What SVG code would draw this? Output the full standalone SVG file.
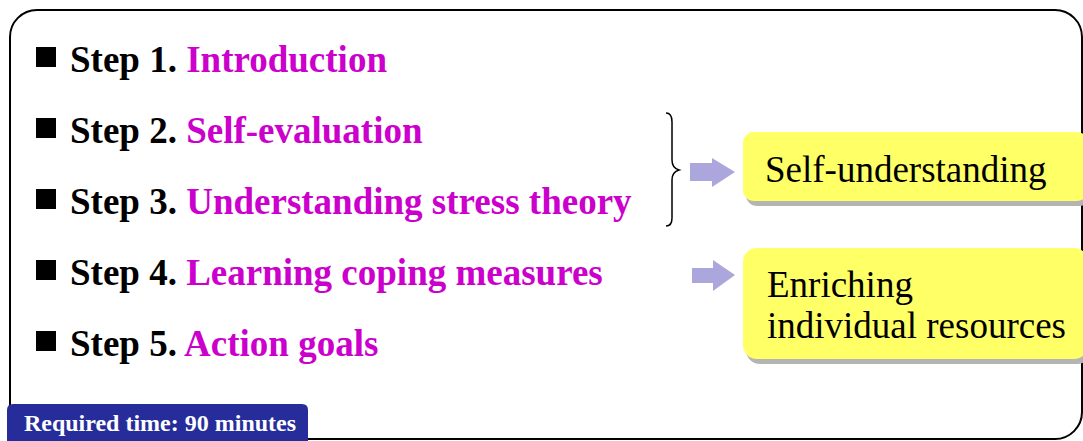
<svg xmlns="http://www.w3.org/2000/svg" width="1083" height="441" viewBox="0 0 1083 441">
<style>
.step{font-family:"Liberation Serif","Times New Roman",serif;font-weight:bold;font-size:37px;fill:#000}
.hl{fill:#CC00CC}
.box{fill:#FFFF66}
.shadow{fill:#B4B4B4}
.btxt{font-family:"Liberation Serif","Times New Roman",serif;font-size:37px;fill:#000}
.arrow{fill:#ABA6DC}
</style>
<rect x="10" y="10" width="1072" height="429" rx="27" fill="#fff" stroke="#000" stroke-width="2"/>
<g id="step1"><rect x="36" y="47" width="20" height="20" fill="#000"/><text class="step" x="70" y="72">Step 1. <tspan class="hl">Introduction</tspan></text></g>
<g id="step2"><rect x="36" y="118" width="20" height="20" fill="#000"/><text class="step" x="70" y="143">Step 2. <tspan class="hl">Self-evaluation</tspan></text></g>
<g id="step3"><rect x="36" y="189" width="20" height="20" fill="#000"/><text class="step" x="70" y="214">Step 3. <tspan class="hl">Understanding stress theory</tspan></text></g>
<g id="step4"><rect x="36" y="260" width="20" height="20" fill="#000"/><text class="step" x="70" y="285">Step 4. <tspan class="hl">Learning coping measures</tspan></text></g>
<g id="step5"><rect x="36" y="331" width="20" height="20" fill="#000"/><text class="step" x="70" y="356">Step 5. <tspan class="hl">Action goals</tspan></text></g>
<g id="connectors">
<path d="M666,113 Q672,113 672,122 L672,160 Q672,168 679,170 Q672,172 672,180 L672,218 Q672,226 666,226" fill="none" stroke="#000" stroke-width="1.5"/>
<polygon class="arrow" points="690,163 712,163 712,158 735,172 712,187 712,181 690,181"/>
<polygon class="arrow" points="692,268 713,268 713,260 735,275 713,291 713,283 692,283"/>
</g>
<g id="self-understanding">
<rect class="shadow" x="746" y="137" width="345" height="69" rx="11"/>
<rect class="box" x="743" y="132" width="345" height="69" rx="11"/>
<text class="btxt" x="765" y="182">Self-understanding</text>
</g>
<g id="enriching">
<rect class="shadow" x="746" y="253" width="345" height="111" rx="14"/>
<rect class="box" x="743" y="248" width="345" height="111" rx="14"/>
<text class="btxt" x="767" y="297">Enriching</text>
<text class="btxt" x="767" y="338">individual resources</text>
</g>
<g id="time-label">
<path d="M7,441 L7,410 Q7,404 13,404 L302,404 Q308,404 308,410 L308,441 Z" fill="#262D9A"/>
<text x="160" y="431" text-anchor="middle" font-family="Liberation Serif,Times New Roman,serif" font-weight="bold" font-size="24" fill="#fff">Required time: 90 minutes</text>
</g>
</svg>
